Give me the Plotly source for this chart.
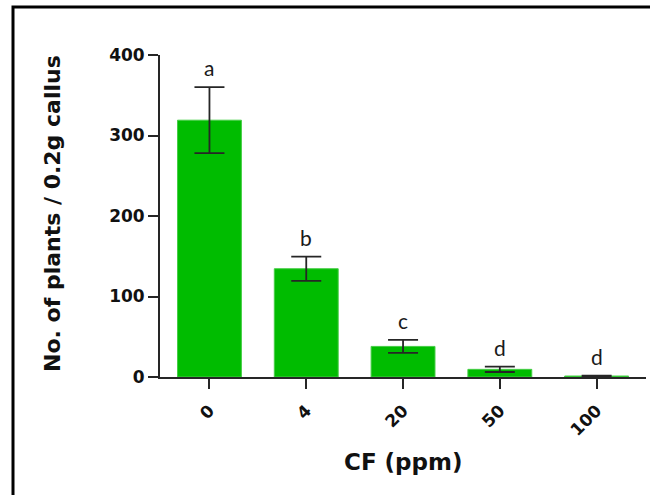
import plotly.graph_objects as go

categories = ["0", "4", "20", "50", "100"]
means = [319, 134.5, 38, 9.5, 1.2]
errors = [41, 15, 8, 3.3, 0.6]
letters = ["a", "b", "c", "d", "d"]
y_ticks = [0, 100, 200, 300, 400]

W, H = 651, 495
L, R, T, B = 160, 5, 55, 118
pw, ph = W - L - R, H - T - B

def px_x(p):
    return (p - L) / pw

def px_y(p):
    return (H - B - p) / ph

GREEN = "rgb(0,188,0)"
DARK = "#262626"

fig = go.Figure()
fig.add_trace(go.Bar(
    x=list(range(len(categories))), y=means,
    width=0.66,
    marker=dict(color=GREEN, line=dict(color="rgb(70,205,70)", width=1)),
    error_y=dict(type="data", array=errors, visible=True, color=DARK,
                 thickness=1.8, width=15),
    showlegend=False,
))

annotations = []
for i, (m, e, t) in enumerate(zip(means, errors, letters)):
    annotations.append(dict(x=i, y=m + e, xref="x", yref="y", text=t,
                            showarrow=False, yanchor="bottom", yshift=5,
                            font=dict(family="Lato", size=21, color="#1a1a1a")))

annotations.append(dict(x=px_x(52), y=px_y(214), xref="paper", yref="paper",
                        text="No. of plants / 0.2g callus", textangle=-90,
                        showarrow=False, xanchor="center", yanchor="middle",
                        font=dict(family="DejaVu Sans", size=22, color="#111",
                                  weight="bold")))
annotations.append(dict(x=px_x(403), y=px_y(462), xref="paper", yref="paper",
                        text="CF (ppm)", showarrow=False,
                        xanchor="center", yanchor="middle",
                        font=dict(family="DejaVu Sans", size=23, color="#111",
                                  weight="bold")))

# frame: top edge and left edge only, drawn as one open path
shapes = [
    dict(type="path", xref="paper", yref="paper",
         path="M {x0} {y0} L {x0} {y1} L {x2} {y1}".format(
             x0=px_x(13), y0=px_y(H + 5), y1=px_y(7), x2=px_x(W - 1)),
         line=dict(color="black", width=3)),
]

tickfont = dict(family="DejaVu Sans", size=17, color="#111", weight="bold")

fig.update_layout(
    width=W, height=H,
    margin=dict(l=L, r=R, t=T, b=B),
    paper_bgcolor="white", plot_bgcolor="white",
    annotations=annotations, shapes=shapes,
    font=dict(family="DejaVu Sans", color="#111"),
    xaxis=dict(
        range=[-0.511, 4.51], tickmode="array",
        tickvals=list(range(len(categories))), ticktext=categories,
        tickangle=-45, ticks="outside", ticklen=10, tickwidth=1.8,
        tickcolor=DARK, showline=True, linecolor=DARK, linewidth=1.8,
        showgrid=False, zeroline=False, tickfont=tickfont,
        ticklabelstandoff=5,
    ),
    yaxis=dict(
        range=[0, 400], tickmode="array", tickvals=y_ticks,
        ticks="outside", ticklen=10, tickwidth=1.8, tickcolor=DARK,
        showline=True, linecolor=DARK, linewidth=1.8,
        showgrid=False, zeroline=False, tickfont=tickfont,
    ),
)

fig.write_html(
    "out.html",
    config={"displayModeBar": False},
    post_script=(
        "document.documentElement.style.margin='0';"
        "document.documentElement.style.overflow='hidden';"
        "document.body.style.margin='0';"
        "document.body.style.overflow='hidden';"
    ),
)
